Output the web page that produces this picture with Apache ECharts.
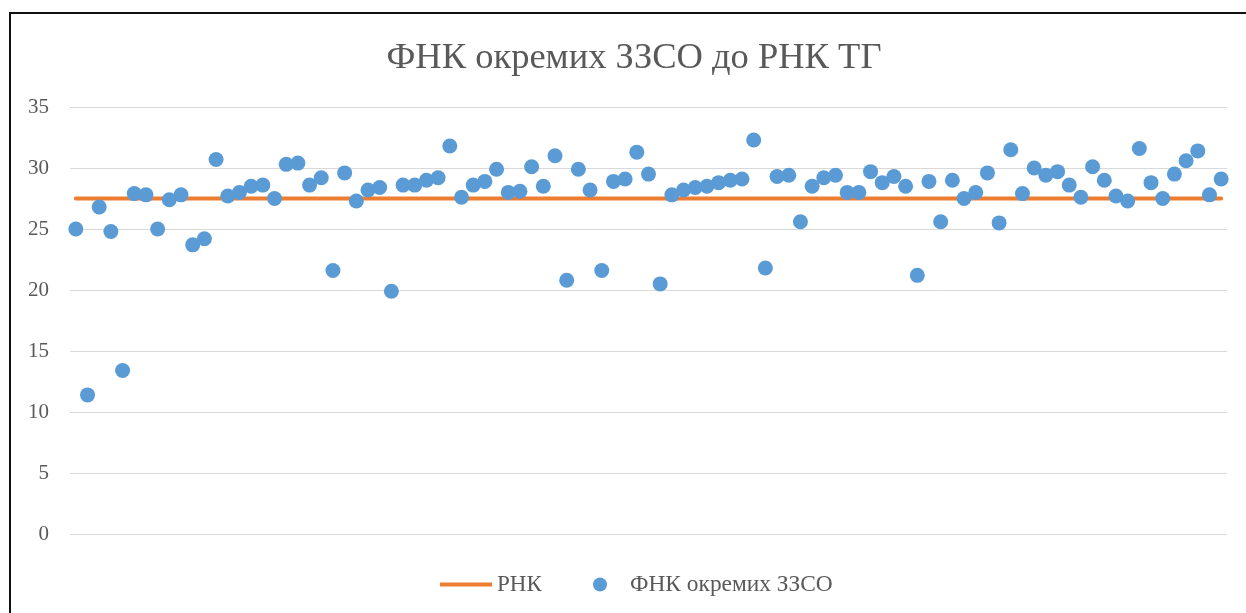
<!DOCTYPE html>
<html>
<head>
<meta charset="utf-8">
<script src="https://cdn.jsdelivr.net/npm/echarts@6/dist/echarts.min.js"></script>
<style>
html,body{margin:0;padding:0;background:#fff;overflow:hidden;}
#frame{position:absolute;left:9px;top:12px;width:1400px;height:800px;border-left:2px solid #111;border-top:2px solid #111;}
#chart{position:absolute;left:0;top:0;width:1246px;height:613px;}
</style>
</head>
<body>
<div id="frame"></div>
<div id="chart"></div>
<script>
const titleText = 'ФНК окремих ЗЗСО до РНК ТГ';
const seriesLineName = 'РНК';
const seriesPointName = 'ФНК окремих ЗЗСО';
const yTicks = [0, 5, 10, 15, 20, 25, 30, 35];
const fnkValues = [
  25.0, 11.4, 26.8, 24.8, 13.4, 27.9, 27.8, 25.0, 27.4, 27.8,
  23.7, 24.2, 30.7, 27.7, 28.0, 28.5, 28.6, 27.5, 30.3, 30.4,
  28.6, 29.2, 21.6, 29.6, 27.3, 28.2, 28.4, 19.9, 28.6, 28.6,
  29.0, 29.2, 31.8, 27.6, 28.6, 28.9, 29.9, 28.0, 28.1, 30.1,
  28.5, 31.0, 20.8, 29.9, 28.2, 21.6, 28.9, 29.1, 31.3, 29.5,
  20.5, 27.8, 28.2, 28.4, 28.5, 28.8, 29.0, 29.1, 32.3, 21.8,
  29.3, 29.4, 25.6, 28.5, 29.2, 29.4, 28.0, 28.0, 29.7, 28.8,
  29.3, 28.5, 21.2, 28.9, 25.6, 29.0, 27.5, 28.0, 29.6, 25.5,
  31.5, 27.9, 30.0, 29.4, 29.7, 28.6, 27.6, 30.1, 29.0, 27.7,
  27.3, 31.6, 28.8, 27.5, 29.5, 30.6, 31.4, 27.8, 29.1
];
const rnkValue = 27.5;
const categories = fnkValues.map((v, i) => String(i + 1));
const rnkValues = categories.map(() => rnkValue);

const serif = "'Liberation Serif', 'Times New Roman', serif";
const chart = echarts.init(document.getElementById('chart'), null, {renderer: 'canvas'});
chart.setOption({
  backgroundColor: 'transparent',
  animation: false,
  title: {
    text: titleText,
    left: 629,
    textAlign: 'center',
    top: 35,
    textStyle: {fontFamily: serif, fontSize: 36.5, fontWeight: 'normal', color: '#595959'}
  },
  legend: [{
    data: [{name: seriesLineName, icon: 'rect'}],
    left: 435, top: 568,
    itemWidth: 52, itemHeight: 4,
    textStyle: {fontFamily: serif, fontSize: 23, color: '#595959'}
  }, {
    data: [{name: seriesPointName, icon: 'circle'}],
    left: 588, top: 568,
    itemWidth: 14, itemHeight: 14,
    textStyle: {fontFamily: serif, fontSize: 23.4, color: '#595959', padding: [0, 0, 0, 18]}
  }],
  grid: {left: 70, right: 19, top: 107, bottom: 79, containLabel: false},
  xAxis: {
    type: 'category',
    data: categories,
    boundaryGap: true,
    axisLine: {show: false},
    axisTick: {show: false},
    axisLabel: {show: false},
    splitLine: {show: false}
  },
  yAxis: {
    type: 'value',
    min: yTicks[0],
    max: yTicks[yTicks.length - 1],
    interval: 5,
    axisLine: {show: false},
    axisTick: {show: false},
    axisLabel: {fontFamily: serif, fontSize: 21, color: '#595959', margin: 21},
    splitLine: {lineStyle: {color: '#d9d9d9', width: 1}}
  },
  series: [{
    name: seriesLineName,
    type: 'line',
    data: rnkValues,
    showSymbol: false,
    symbol: 'none',
    lineStyle: {color: '#ED7D31', width: 4, cap: 'round'},
    itemStyle: {color: '#ED7D31'},
    z: 2
  }, {
    name: seriesPointName,
    type: 'scatter',
    data: fnkValues,
    symbol: 'circle',
    symbolSize: 15,
    itemStyle: {color: '#5B9BD5', opacity: 1},
    z: 3
  }]
});
</script>
</body>
</html>
